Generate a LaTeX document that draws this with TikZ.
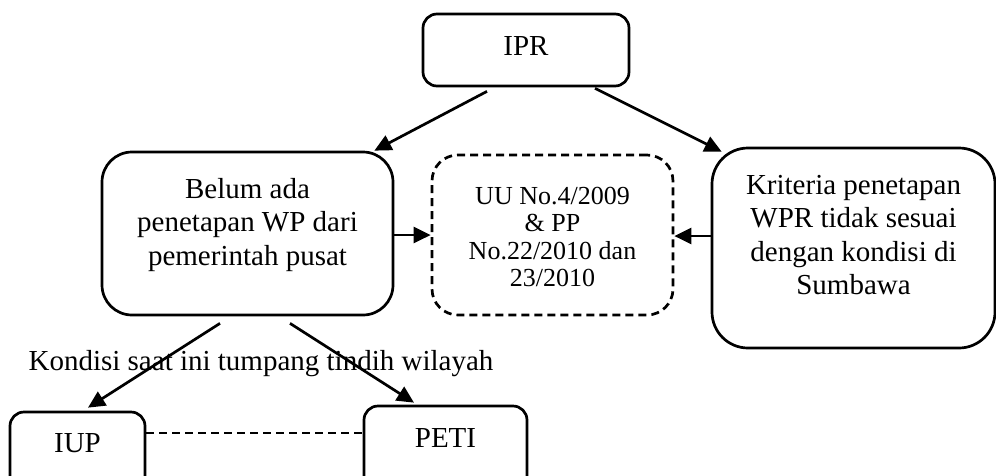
\documentclass[tikz,border=0pt]{standalone}
\usepackage{fontspec}
\setmainfont{Liberation Serif}
\usetikzlibrary{arrows.meta,calc}
\tikzset{
  box/.style={draw=black, line width=2.7pt, fill=white, inner sep=0pt},
  dbox/.style={draw=black, line width=2.7pt, dash pattern=on 8pt off 5pt, inner sep=0pt},
  txt/.style={align=center, inner sep=0pt, font=\fontsize{29}{33.5}\selectfont},
  stxt/.style={align=center, inner sep=0pt, font=\fontsize{26}{27.5}\selectfont},
  arr/.style={line width=2.7pt, -{Triangle[length=17pt,width=16pt]}},
  dline/.style={line width=2.5pt, dash pattern=on 8pt off 5pt}
}
\begin{document}
\begin{tikzpicture}[x=1pt,y=-1pt]
\clip (0,0) rectangle (996,475);
\fill[white] (0,0) rectangle (996,475);
% boxes
\node[box, rounded corners=14pt, minimum width=206, minimum height=72] (ipr) at (526,50) {};
\node[box, rounded corners=30pt, minimum width=291, minimum height=163] (belum) at (247.5,233.5) {};
\node[dbox, rounded corners=26pt, minimum width=241, minimum height=160] (dash) at (552.5,235) {};
\node[box, rounded corners=36pt, minimum width=283, minimum height=200] (krit) at (853.5,248) {};
\node[box, rounded corners=14pt, minimum width=135, minimum height=83] (iup) at (77.5,453.5) {};
\node[box, rounded corners=14pt, minimum width=163, minimum height=84] (peti) at (445.5,448) {};
% texts
\node[txt] (tipr) at (526,45.5) {IPR};
\node[txt] (tbelum) at (247.5,225) {Belum ada\\penetapan WP dari\\pemerintah pusat};
\node[stxt] (tdash) at (552.5,237) {UU No.4/2009\\\& PP\\No.22/2010 dan\\23/2010};
\node[txt] (tkrit) at (853.5,235) {Kriteria penetapan\\WPR tidak sesuai\\dengan kondisi di\\Sumbawa};
\node[txt] (tiup) at (77.5,443) {IUP};
\node[txt] (tpeti) at (445.5,437.5) {PETI};
% connectors
\draw[arr] ($(ipr.south)+(-39,4)$) -- ($(belum.north east)+(-20,0)$);
\draw[arr] ($(ipr.south)+(69,1)$) -- ($(krit.north west)+(11,5)$);
\draw[arr] ($(belum.east)+(0,1.5)$) -- ($(dash.west)+(0,0)$);
\draw[arr] ($(krit.west)+(0,-12)$) -- ($(dash.east)+(0,1)$);
\draw[arr] ($(belum.south)+(-27.5,7)$) -- ($(iup.north)+(10.5,-3)$);
\draw[arr] ($(belum.south)+(42.5,7)$) -- ($(peti.north)+(-31.5,-2)$);
\draw[dline] ($(iup.east)+(0,-20.5)$) -- ($(peti.west)+(0,-15)$);
% label over arrows
\node[txt] (kondisi) at (261,364) {Kondisi saat ini tumpang tindih wilayah};
\end{tikzpicture}
\end{document}
